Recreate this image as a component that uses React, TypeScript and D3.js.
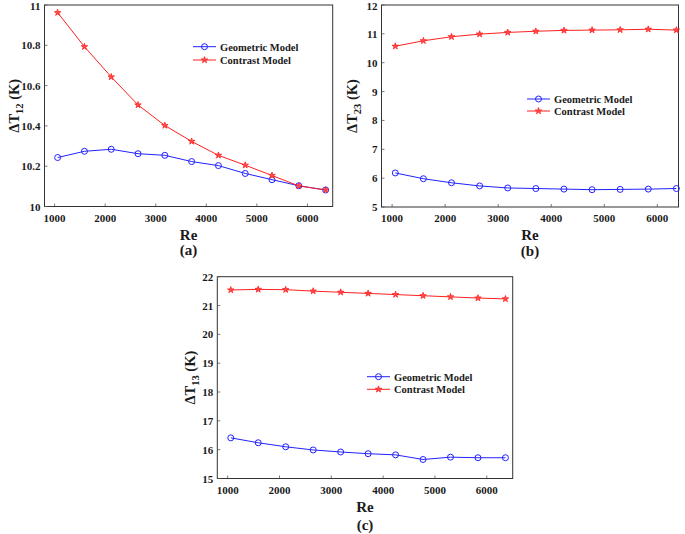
import React from "react";
import * as d3 from "d3";

const re = [1060, 1590, 2120, 2650, 3180, 3710, 4240, 4770, 5300, 5830, 6360];

const geoA = [10.243, 10.274, 10.284, 10.262, 10.254, 10.223, 10.203, 10.164, 10.133, 10.103, 10.082];
const conA = [10.962, 10.793, 10.643, 10.504, 10.402, 10.323, 10.254, 10.205, 10.154, 10.102, 10.082];

const geoB = [6.18, 5.98, 5.84, 5.73, 5.66, 5.64, 5.62, 5.6, 5.61, 5.62, 5.64];
const conB = [10.57, 10.76, 10.9, 10.99, 11.05, 11.09, 11.12, 11.13, 11.14, 11.16, 11.13];

const geoC = [16.41, 16.24, 16.1, 15.99, 15.92, 15.86, 15.82, 15.66, 15.74, 15.72, 15.72];
const conC = [21.54, 21.56, 21.55, 21.5, 21.46, 21.42, 21.38, 21.34, 21.3, 21.26, 21.23];

const xTicks = [1000, 2000, 3000, 4000, 5000, 6000];
const yTicksA = [10, 10.2, 10.4, 10.6, 10.8, 11];
const yTicksB = [5, 6, 7, 8, 9, 10, 11, 12];
const yTicksC = [15, 16, 17, 18, 19, 20, 21, 22];

const seriesNames = ["Geometric Model", "Contrast Model"];

const BLUE = "#2222ff";
const RED = "#ff2020";
const FONT = "'Liberation Serif', 'Times New Roman', serif";

type PanelProps = {
  left: number; right: number; top: number; bottom: number;
  xDomain: [number, number]; yDomain: [number, number];
  yTicks: number[]; geo: number[]; con: number[];
  sub: string; tag: string;
  legendX: number; legendY: number; legendGap: number;
  yTitleX: number;
  reY: number; tagY: number;
};

function Panel(p: PanelProps) {
  const x = d3.scaleLinear().domain(p.xDomain).range([p.left, p.right]);
  const y = d3.scaleLinear().domain(p.yDomain).range([p.bottom, p.top]);
  const line = d3.line<number>().x((_, i) => x(re[i])).y((d) => y(d));
  const star = d3.symbol().type(d3.symbolStar).size(13)()!;
  const cx = (p.left + p.right) / 2;
  const cy = (p.top + p.bottom) / 2;
  const fmt = (v: number) => String(Math.round(v * 10) / 10);
  return (
    <g fontFamily={FONT} fontWeight="bold" fill="#1a1a1a">
      <rect x={p.left} y={p.top} width={p.right - p.left} height={p.bottom - p.top}
        fill="white" stroke="#333" strokeWidth={1} />
      {xTicks.map((t) => (
        <g key={"x" + t}>
          <line x1={x(t)} x2={x(t)} y1={p.bottom} y2={p.bottom - 3} stroke="#555" strokeWidth={0.8} />
          <text x={x(t)} y={p.bottom + 15} textAnchor="middle" fontSize={11}>{t}</text>
        </g>
      ))}
      {p.yTicks.map((t) => (
        <g key={"y" + t}>
          <line x1={p.left} x2={p.left + 3} y1={y(t)} y2={y(t)} stroke="#555" strokeWidth={0.8} />
          <text x={p.left - 4} y={Math.max(y(t) + 4, 10)} textAnchor="end" fontSize={11}>{fmt(t)}</text>
        </g>
      ))}
      <path d={line(p.geo)!} fill="none" stroke={BLUE} strokeWidth={1} />
      <path d={line(p.con)!} fill="none" stroke={RED} strokeWidth={1} />
      {p.geo.map((v, i) => (
        <circle key={"g" + i} cx={x(re[i])} cy={y(v)} r={3} fill="none" stroke={BLUE} strokeWidth={1} />
      ))}
      {p.con.map((v, i) => (
        <path key={"c" + i} d={star} transform={`translate(${x(re[i])},${y(v)})`} fill="#ff5050" stroke={RED} strokeWidth={0.8} />
      ))}
      {seriesNames.map((n, i) => {
        const ly = p.legendY + i * p.legendGap;
        const col = i === 0 ? BLUE : RED;
        return (
          <g key={n}>
            <line x1={p.legendX} x2={p.legendX + 23} y1={ly} y2={ly} stroke={col} strokeWidth={1} />
            {i === 0 ? (
              <circle cx={p.legendX + 11.5} cy={ly} r={3} fill="none" stroke={col} strokeWidth={1} />
            ) : (
              <path d={star} transform={`translate(${p.legendX + 11.5},${ly})`} fill="#ff5050" stroke={col} strokeWidth={0.8} />
            )}
            <text x={p.legendX + 27} y={ly + 4} fontSize={10.5}>{n}</text>
          </g>
        );
      })}
      <text transform={`translate(${p.yTitleX},${cy}) rotate(-90)`} textAnchor="middle" fontSize={14.5}>
        ΔT<tspan fontSize={10.5} dy={4}>{p.sub}</tspan><tspan dy={-4}> (K)</tspan>
      </text>
      <text x={cx} y={p.reY} textAnchor="middle" fontSize={15}>Re</text>
      <text x={cx} y={p.tagY} textAnchor="middle" fontSize={15}>{p.tag}</text>
    </g>
  );
}

export default function App() {
  return (
    <svg width={685} height={534} style={{ position: "absolute", left: 0, top: 0, background: "white" }}>
      <rect width={685} height={534} fill="white" />
      <Panel left={44.5} right={332.7} top={5} bottom={206.5}
        xDomain={[800, 6500]} yDomain={[10, 11]} yTicks={yTicksA}
        geo={geoA} con={conA} sub="12" tag="(a)"
        legendX={193} legendY={46.7} legendGap={13.3} yTitleX={19}
        reY={240} tagY={255} />
      <Panel left={381.5} right={678.5} top={5} bottom={207}
        xDomain={[800, 6400]} yDomain={[5, 12]} yTicks={yTicksB}
        geo={geoB} con={conB} sub="23" tag="(b)"
        legendX={527} legendY={99} legendGap={12} yTitleX={357}
        reY={240} tagY={256} />
      <Panel left={217.3} right={512.7} top={276.7} bottom={478.5}
        xDomain={[800, 6500]} yDomain={[15, 22]} yTicks={yTicksC}
        geo={geoC} con={conC} sub="13" tag="(c)"
        legendX={367} legendY={376.7} legendGap={12.6} yTitleX={195}
        reY={512} tagY={530} />
    </svg>
  );
}
